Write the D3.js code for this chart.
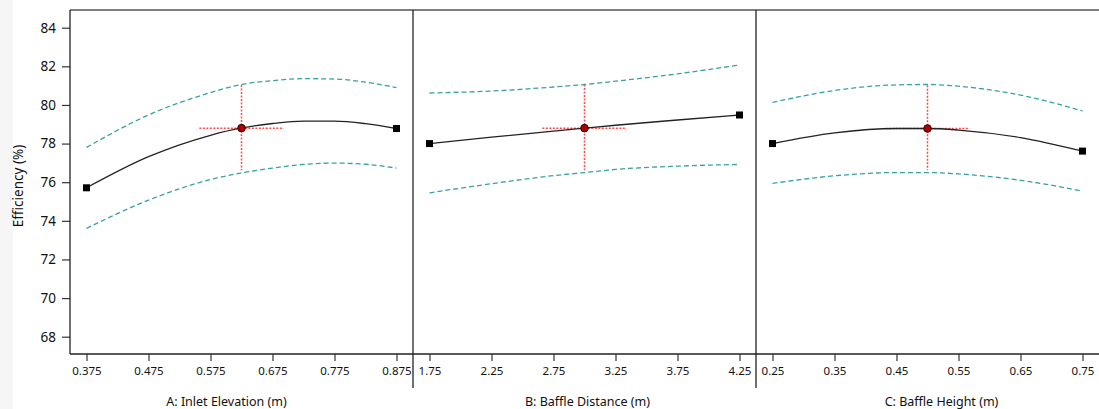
<!DOCTYPE html>
<html>
<head>
<meta charset="utf-8">
<script src="https://cdn.jsdelivr.net/npm/d3@7"></script>
<style>
  body { margin: 0; background: #fff; }
  svg { display: block; font-family: "Noto Sans", sans-serif; }
</style>
</head>
<body>
<svg id="chart" width="1099" height="409"></svg>
<script>
// values
const factorNames = ['A: Inlet Elevation (m)', 'B: Baffle Distance (m)', 'C: Baffle Height (m)'];
const yTicks = [68, 70, 72, 74, 76, 78, 80, 82, 84];

const xTicksA = [0.375, 0.475, 0.575, 0.675, 0.775, 0.875];
const xTicksB = [1.75, 2.25, 2.75, 3.25, 3.75, 4.25];
const xTicksC = [0.25, 0.35, 0.45, 0.55, 0.65, 0.75];
const tickLabelsA = ['0.375', '0.475', '0.575', '0.675', '0.775', '0.875'];
const tickLabelsB = ['1.75', '2.25', '2.75', '3.25', '3.75', '4.25'];
const tickLabelsC = ['0.25', '0.35', '0.45', '0.55', '0.65', '0.75'];

const xA = [0.375, 0.475, 0.575, 0.625, 0.675, 0.725, 0.775, 0.825, 0.875];
const fitA = [75.71, 77.32, 78.43, 78.81, 79.04, 79.16, 79.16, 79.03, 78.78];
const upperA = [77.80, 79.48, 80.64, 81.06, 81.26, 81.36, 81.34, 81.18, 80.90];
const lowerA = [73.61, 75.07, 76.14, 76.48, 76.73, 76.92, 76.99, 76.93, 76.73];

const xB = [1.75, 2.25, 2.75, 3.0, 3.25, 3.75, 4.25];
const fitB = [78.0, 78.33, 78.65, 78.8, 78.95, 79.22, 79.48];
const upperB = [80.62, 80.72, 80.93, 81.06, 81.23, 81.61, 82.07];
const lowerB = [75.45, 75.92, 76.34, 76.5, 76.66, 76.83, 76.92];

const xC = [0.25, 0.35, 0.45, 0.5, 0.55, 0.65, 0.75];
const fitC = [78.0, 78.55, 78.78, 78.78, 78.7, 78.31, 77.61];
const upperC = [80.13, 80.75, 81.04, 81.06, 80.97, 80.51, 79.69];
const lowerC = [75.94, 76.33, 76.5, 76.5, 76.43, 76.1, 75.54];

// design centre point and its red crosshair
const centerX = [0.625, 3.0, 0.5];
const centerY = [78.8, 78.8, 78.78];
const crossHalfWidth = [0.068, 0.34, 0.068];
const crossLow = [76.62, 76.62, 76.62];
const crossHigh = [81.03, 81.06, 81.02];

const panels = [
  { ticks: xTicksA, labels: tickLabelsA, x: xA, fit: fitA, up: upperA, lo: lowerA },
  { ticks: xTicksB, labels: tickLabelsB, x: xB, fit: fitB, up: upperB, lo: lowerB },
  { ticks: xTicksC, labels: tickLabelsC, x: xC, fit: fitC, up: upperC, lo: lowerC }
];

const svg = d3.select('#chart');
const plotLeft = 70, plotTop = 10, plotBottom = 354, panelW = 343, pad = 16.5;
const plotRight = plotLeft + panelW * 3;
const titleShift = [-15, 3, 14];
const textColor = '#111';

const y = d3.scaleLinear().domain([68, 84]).range([336.7, 27.7]);

svg.append('rect').attr('x', 0).attr('y', 0).attr('width', 13).attr('height', 409).attr('fill', '#f6f6f6');

// y axis
const yAxis = svg.append('g').attr('transform', `translate(${plotLeft},0)`)
  .call(d3.axisLeft(y).tickValues(yTicks).tickSize(8).tickPadding(6).tickFormat(d3.format('d')));
yAxis.select('.domain').remove();
yAxis.selectAll('line').attr('stroke', '#333').attr('stroke-width', 1.2);
yAxis.selectAll('text').attr('font-size', 13.5).attr('fill', textColor).attr('font-family', '"Noto Sans", sans-serif');

svg.append('text')
  .attr('transform', `translate(23,186) rotate(-90)`)
  .attr('text-anchor', 'middle')
  .attr('font-size', 13.5).attr('fill', textColor)
  .text('Efficiency (%)');

// frame
svg.append('line').attr('x1', plotLeft).attr('x2', plotRight).attr('y1', plotTop).attr('y2', plotTop)
  .attr('stroke', '#555').attr('stroke-width', 1.5);
svg.append('line').attr('x1', plotLeft).attr('x2', plotRight).attr('y1', plotBottom).attr('y2', plotBottom)
  .attr('stroke', '#222').attr('stroke-width', 1.3);
svg.append('line').attr('x1', plotLeft).attr('x2', plotLeft).attr('y1', plotTop).attr('y2', plotBottom)
  .attr('stroke', '#222').attr('stroke-width', 1.3);
[1, 2].forEach(i => {
  svg.append('line').attr('x1', plotLeft + panelW * i).attr('x2', plotLeft + panelW * i)
    .attr('y1', plotTop).attr('y2', 388)
    .attr('stroke', '#222').attr('stroke-width', 1.3);
});

panels.forEach((p, i) => {
  const x0 = plotLeft + panelW * i;
  const x = d3.scaleLinear()
    .domain([p.ticks[0], p.ticks[p.ticks.length - 1]])
    .range([x0 + pad, x0 + panelW - pad]);

  const g = svg.append('g');

  const xAxis = g.append('g').attr('transform', `translate(0,${plotBottom})`)
    .call(d3.axisBottom(x).tickValues(p.ticks).tickSize(7).tickPadding(6)
      .tickFormat((d, k) => p.labels[k]));
  xAxis.select('.domain').remove();
  xAxis.selectAll('line').attr('stroke', '#333').attr('stroke-width', 1.2);
  xAxis.selectAll('text').attr('font-size', 11.5).attr('fill', textColor).attr('font-family', '"Noto Sans", sans-serif');

  g.append('text')
    .attr('x', x0 + panelW / 2 + titleShift[i]).attr('y', 406)
    .attr('text-anchor', 'middle').attr('font-size', 12.5).attr('fill', textColor)
    .text(factorNames[i]);

  const pts = key => p.x.map((v, k) => [v, p[key][k]]);
  const line = d3.line().x(d => x(d[0])).y(d => y(d[1])).curve(d3.curveMonotoneX);

  ['up', 'lo'].forEach(key => {
    g.append('path').attr('d', line(pts(key)))
      .attr('fill', 'none').attr('stroke', '#37a2a2').attr('stroke-width', 1.3)
      .attr('stroke-dasharray', '5,3');
  });

  // crosshair
  g.append('line')
    .attr('x1', x(centerX[i])).attr('x2', x(centerX[i]))
    .attr('y1', y(crossHigh[i])).attr('y2', y(crossLow[i]))
    .attr('stroke', '#ff4a4a').attr('stroke-width', 1.5).attr('stroke-dasharray', '2,1.5');
  g.append('line')
    .attr('x1', x(centerX[i] - crossHalfWidth[i])).attr('x2', x(centerX[i] + crossHalfWidth[i]))
    .attr('y1', y(centerY[i])).attr('y2', y(centerY[i]))
    .attr('stroke', '#ff4a4a').attr('stroke-width', 1.5).attr('stroke-dasharray', '2,1.5');

  g.append('path').attr('d', line(pts('fit')))
    .attr('fill', 'none').attr('stroke', '#222').attr('stroke-width', 1.3);

  const ends = [0, p.x.length - 1];
  g.selectAll('rect.end').data(ends).join('rect')
    .attr('class', 'end')
    .attr('x', k => x(p.x[k]) - 3.5).attr('y', k => y(p.fit[k]) - 3.5)
    .attr('width', 7).attr('height', 7).attr('fill', '#000');

  g.append('circle')
    .attr('cx', x(centerX[i])).attr('cy', y(centerY[i])).attr('r', 3.8)
    .attr('fill', '#b00000').attr('stroke', '#300').attr('stroke-width', 1);
});
</script>
</body>
</html>
